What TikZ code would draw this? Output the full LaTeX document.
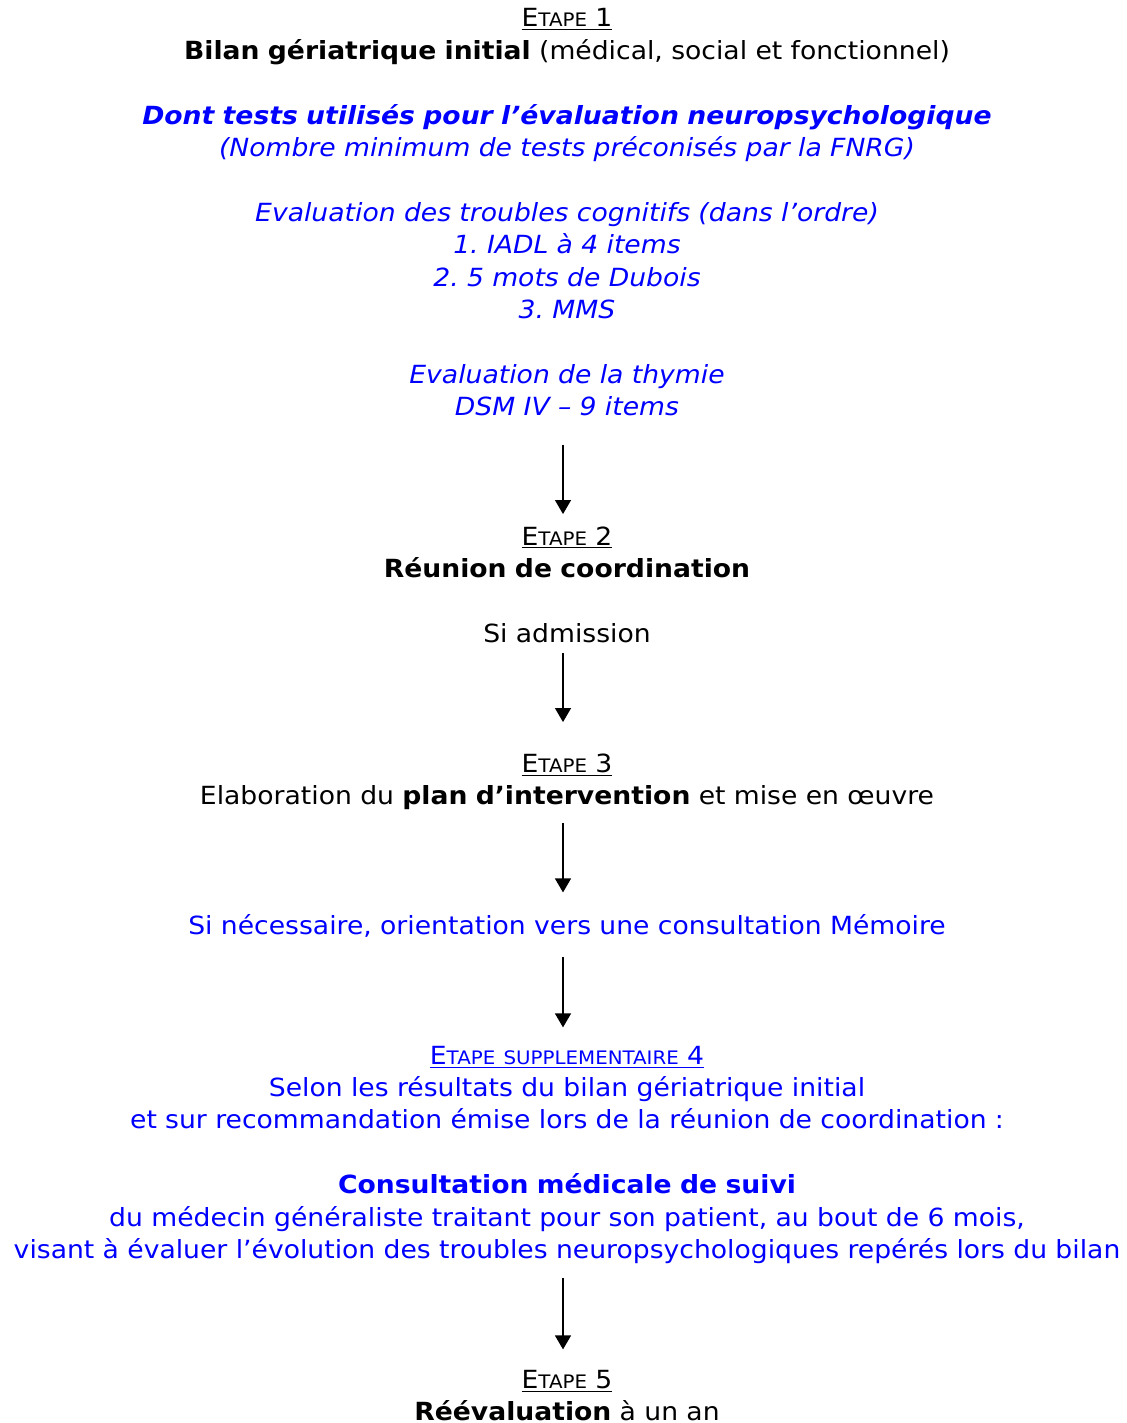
\documentclass[tikz,border=0pt]{standalone}
\usepackage{fontspec}
\setmainfont[FakeStretch=1.065]{DejaVu Sans}
\usetikzlibrary{arrows.meta}
\definecolor{EtapeBlue}{RGB}{0,0,255}
\frenchspacing
\newcommand\petit[1]{{\fontsize{9.3}{9.3}\selectfont #1}}
\newcommand\etape[1]{\underline{E\petit{TAPE}~#1}}
\tikzset{
  etapebox/.style={anchor=base,inner sep=0pt,text width=600pt,align=center,
    font=\fontsize{12.5}{16.2}\selectfont},
  bluebox/.style={etapebox,text=EtapeBlue},
  arrow/.style={-{Triangle[length=7pt,width=8pt]},line width=0.65pt,black}
}

\begin{document}
\begin{tikzpicture}[x=0.5pt,y=-0.5pt]
      \useasboundingbox (0,0) rectangle (1127,1423);
      \node[etapebox] (bilan) at (567,27) {\etape{1}\\
        \textbf{Bilan gériatrique initial} (médical, social et fonctionnel)\\[16.2pt]
        {\color{EtapeBlue}\bfseries\itshape Dont tests utilisés pour l’évaluation neuropsychologique\\
        \mdseries (Nombre minimum de tests préconisés par la FNRG)\\[16.2pt]
        Evaluation des troubles cognitifs (dans l’ordre)\\
        1. IADL à 4 items\\
        2. 5 mots de Dubois\\
        3. MMS\\[16.2pt]
        Evaluation de la thymie\\
        DSM IV – 9 items}};
      \node[etapebox] (reunion) at (567,545) {\etape{2}\\
        \textbf{Réunion de coordination}\\[16.2pt]
        Si admission};
      \node[etapebox] (plan) at (567,772) {\etape{3}\\
        Elaboration du \textbf{plan d’intervention} et mise en œuvre};
      \node[bluebox] (memoire) at (567,934) {Si nécessaire, orientation vers une consultation Mémoire};
      \node[bluebox] (suivi) at (567,1064) {\underline{E\petit{TAPE SUPPLEMENTAIRE}~4}\\
        Selon les résultats du bilan gériatrique initial\\
        et sur recommandation émise lors de la réunion de coordination :\\[16.2pt]
        \textbf{Consultation médicale de suivi}\\
        du médecin généraliste traitant pour son patient, au bout de 6 mois,\\
        visant à évaluer l’évolution des troubles neuropsychologiques repérés lors du bilan};
      \node[etapebox] (reeval) at (567,1388) {\etape{5}\\
        \textbf{Réévaluation} à un an};
      \draw[arrow,shorten <=14pt,shorten >=6pt] ([xshift=-2pt]bilan.south) -- ([xshift=-2pt]reunion.north);
      \draw[arrow,shorten <=5pt,shorten >=15.5pt] ([xshift=-2pt]reunion.south) -- ([xshift=-2pt]plan.north);
      \draw[arrow,shorten <=6.6pt,shorten >=10.6pt] ([xshift=-2pt]plan.south) -- ([xshift=-2pt]memoire.north);
      \draw[arrow,shorten <=9.75pt,shorten >=9pt] ([xshift=-2pt]memoire.south) -- ([xshift=-2pt]suivi.north);
      \draw[arrow,shorten <=7.15pt,shorten >=10pt] ([xshift=-2pt]suivi.south) -- ([xshift=-2pt]reeval.north);
    \end{tikzpicture}
\end{document}
